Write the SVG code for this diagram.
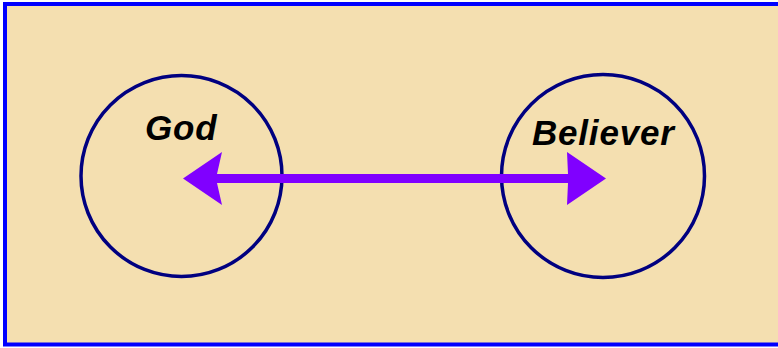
<svg xmlns="http://www.w3.org/2000/svg" width="778" height="348" viewBox="0 0 778 348">
<style>
.node circle{fill:none;stroke:#000080;stroke-width:3.5}
.lbl{font-family:"Liberation Sans",Arial,sans-serif;font-weight:bold;font-style:italic;font-size:35px;letter-spacing:0.8px;fill:#000}
.arrow{fill:#8000FF}
</style>
<rect x="5" y="4" width="775" height="340.5" fill="#F4DFB0" stroke="#0000FF" stroke-width="4"/>
<g id="god" class="node">
<circle cx="181.5" cy="176" r="100.5"/>
<text class="lbl" x="145" y="140">God</text>
</g>
<g id="believer" class="node">
<circle cx="603" cy="176" r="101.5"/>
<text class="lbl" x="532" y="145">Believer</text>
</g>
<g id="connectors">
<path class="arrow" d="M183,178.5 L222,152 L217,174 L568,174 L567,152 L606,178.5 L567,205 L568,183 L217,183 L222,205 Z"/>
</g>
</svg>
